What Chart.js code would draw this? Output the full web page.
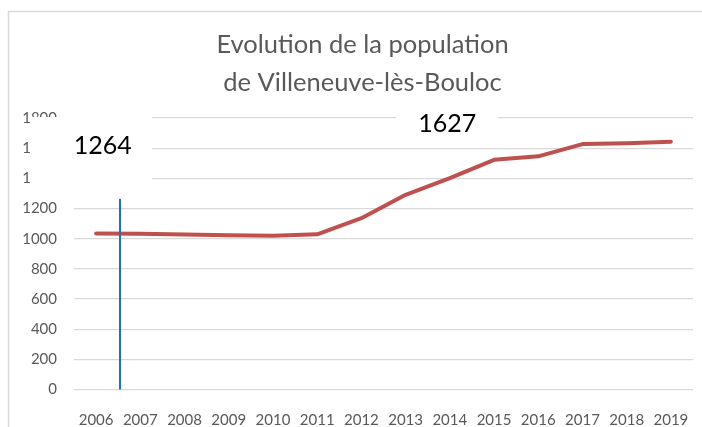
<!DOCTYPE html>
<html><head><meta charset="utf-8">
<script src="https://cdn.jsdelivr.net/npm/chart.js@4"></script>
<style>html,body{margin:0;padding:0;background:#fff;overflow:hidden}#wrap{width:702px;height:427px;position:relative}</style>
</head><body><div id="wrap"><canvas id="c"></canvas></div>
<script>
const titleLines = ['Evolution de la population', 'de Villeneuve-lès-Bouloc'];
const years = ['2006','2007','2008','2009','2010','2011','2012','2013','2014','2015','2016','2017','2018','2019'];
const population = [1034,1032,1027,1023,1019,1029,1136,1291,1402,1523,1546,1627,1632,1643];
const yMin = 0, yMax = 1800, yStep = 200;
const noteTexts = ['1264','1627'];
const markerValue = 1264;      // height of the blue vertical marker
const markerIndex = 0.54;      // position between 2006 and 2007

const FONT = 'Lato';
const GREY = '#595959';

const notesPlugin = {
  id: 'notes',
  beforeDraw(chart) {
    const ctx = chart.ctx, a = chart.chartArea;
    ctx.save();
    ctx.strokeStyle = '#d9d9d9';
    ctx.lineWidth = 1.5;
    ctx.strokeRect(8.5, 11.5, 900, 600);
    // title
    ctx.fillStyle = GREY;
    ctx.font = '25.5px ' + FONT;
    ctx.textAlign = 'center';
    ctx.textBaseline = 'alphabetic';
    const cx = (a.left - 42 + a.right) / 2;
    ctx.fillText(titleLines[0], cx, a.top - 65);
    ctx.fillText(titleLines[1], cx, a.top - 27.5);
    ctx.restore();
  },
  afterDatasetsDraw(chart) {
    const x = chart.scales.x, y = chart.scales.y, ctx = chart.ctx;
    const p0 = x.getPixelForValue(0), p1 = x.getPixelForValue(1);
    const px = p0 + markerIndex * (p1 - p0);
    ctx.save();
    ctx.strokeStyle = '#1f6fc0';
    ctx.lineWidth = 2;
    ctx.beginPath();
    ctx.moveTo(px, y.getPixelForValue(0));
    ctx.lineTo(px, y.getPixelForValue(markerValue));
    ctx.stroke();
    ctx.restore();
  },
  afterDraw(chart) {
    const x = chart.scales.x, y = chart.scales.y, ctx = chart.ctx, a = chart.chartArea;
    const step = x.getPixelForValue(1) - x.getPixelForValue(0);
    const top = y.getPixelForValue(yMax);
    ctx.save();
    ctx.fillStyle = '#fff';
    // box behind "1264"
    const l1 = a.left - 44;
    ctx.fillRect(l1, top - 1, (x.getPixelForValue(0) + 1.27 * step) - l1, 78);
    // box behind "1627"
    const c2 = x.getPixelForValue(0) + 7.94 * step;
    ctx.fillRect(c2 - 51, top - 14, 102, 34);
    ctx.fillStyle = '#000';
    ctx.font = '25px ' + FONT;
    ctx.textAlign = 'center';
    ctx.textBaseline = 'middle';
    ctx.fillText(noteTexts[0], x.getPixelForValue(0) + 0.15 * step, top + 28);
    ctx.fillText(noteTexts[1], c2, top + 6);
    ctx.restore();
  }
};

new Chart(document.getElementById('c'), {
  type: 'line',
  data: {
    labels: years,
    datasets: [{
      data: population,
      borderColor: '#c0504d',
      borderWidth: 4,
      borderCapStyle: 'round',
      borderJoinStyle: 'round',
      pointRadius: 0,
      tension: 0,
      fill: false
    }]
  },
  options: {
    responsive: true,
    maintainAspectRatio: false,
    animation: false,
    events: [],
    layout: { padding: { left: 14, right: 9, top: 118, bottom: 0 } },
    plugins: {
      legend: { display: false },
      tooltip: { enabled: false },
      title: { display: false }
    },
    scales: {
      x: {
        offset: true,
        grid: { display: false },
        border: { display: false },
        ticks: { color: GREY, font: { family: FONT, size: 15 }, padding: 13.5, maxRotation: 0, autoSkip: false },
        afterFit(s) { s.height = 37.5; s.paddingLeft = 0; s.paddingRight = 0; }
      },
      y: {
        min: yMin, max: yMax,
        grid: { color: '#d9d9d9', lineWidth: 1.3, drawTicks: false },
        border: { display: false },
        ticks: { stepSize: yStep, color: GREY, font: { family: FONT, size: 15 }, padding: 17,
                 callback: (v) => String(v) },
        afterFit(s) { s.width = 60; s.paddingTop = 0; s.paddingBottom = 0; }
      }
    }
  },
  plugins: [notesPlugin]
});
</script></body></html>
